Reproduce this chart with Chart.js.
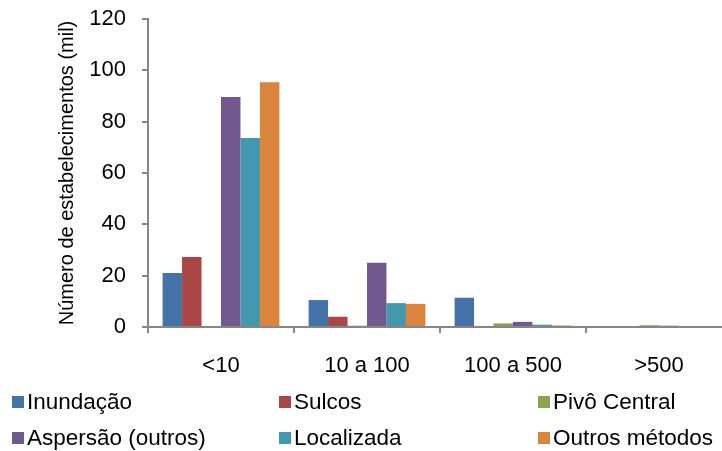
<!DOCTYPE html>
<html lang="pt">
<head>
<meta charset="UTF-8">
<title>Número de estabelecimentos por método de irrigação</title>
<script src="https://cdn.jsdelivr.net/npm/chart.js@4.4.1/dist/chart.umd.min.js"></script>
<style>
  body { margin: 0; background: #fff; }
  #wrap { width: 722px; height: 451px; overflow: hidden; position: relative; }
</style>
</head>
<body>
<div id="wrap">
  <canvas id="chart" width="740" height="451"></canvas>
</div>
<script>
// categorias (área do estabelecimento, ha) e valores em mil estabelecimentos
const categories = ['<10', '10 a 100', '100 a 500', '>500'];
const seriesNames = ['Inundação', 'Sulcos', 'Pivô Central', 'Aspersão (outros)', 'Localizada', 'Outros métodos'];
const inundacao = [21.0, 10.5, 11.4, 0.4];
const sulcos = [27.3, 4.0, 0, 0];
const pivoCentral = [0, 0.5, 1.4, 0.7];
const aspersao = [89.6, 25.0, 2.0, 0.5];
const localizada = [73.6, 9.3, 0.9, 0];
const outrosMetodos = [95.4, 9.0, 0.6, 0];
const yTicks = [0, 20, 40, 60, 80, 100, 120];

const colors = ['#4572A7', '#AA4643', '#89A54E', '#71588F', '#4198AF', '#DB843D'];
const values = [inundacao, sulcos, pivoCentral, aspersao, localizada, outrosMetodos];
const FONT = '"Liberation Sans", Arial, sans-serif';
const axisGray = '#868686';

// legenda em grade 3x2, desenhada no rodapé do canvas
const gridLegend = {
  id: 'gridLegend',
  afterDraw(chart) {
    const ctx = chart.ctx;
    const colX = [12, 279, 538];
    const rowY = [402, 438];
    ctx.save();
    ctx.font = '22.5px ' + FONT;
    ctx.textBaseline = 'middle';
    ctx.textAlign = 'left';
    chart.data.datasets.forEach((ds, i) => {
      const x = colX[i % 3], y = rowY[Math.floor(i / 3)];
      ctx.fillStyle = ds.backgroundColor;
      ctx.fillRect(x, y - 6, 12, 12);
      ctx.fillStyle = '#000';
      ctx.fillText(ds.label, x + 15, y + 1);
    });
    ctx.restore();
  }
};

new Chart(document.getElementById('chart'), {
  type: 'bar',
  data: {
    labels: categories,
    datasets: seriesNames.map((name, i) => ({
      label: name,
      data: values[i],
      backgroundColor: colors[i],
      borderWidth: 0
    }))
  },
  options: {
    responsive: false,
    animation: false,
    devicePixelRatio: 1,
    layout: { padding: { left: 0, top: 19, right: 8, bottom: 74 } },
    datasets: { bar: { categoryPercentage: 0.8, barPercentage: 1.0 } },
    plugins: { legend: { display: false }, tooltip: { enabled: false } },
    scales: {
      x: {
        afterFit: (s) => { s.height = 50; s.paddingLeft = 0; s.paddingRight = 0; },
        border: { color: axisGray, width: 2 },
        grid: { offset: true, drawOnChartArea: false, drawTicks: true, tickLength: 6, color: axisGray, lineWidth: 2 },
        ticks: { color: '#000', font: { family: FONT, size: 22 }, padding: 20, maxRotation: 0 }
      },
      y: {
        min: 0,
        max: 120,
        afterFit: (s) => { s.width = 148; s.paddingTop = 0; s.paddingBottom = 0; },
        afterBuildTicks: (s) => { s.ticks = yTicks.map(v => ({ value: v })); },
        border: { color: axisGray, width: 2 },
        grid: { drawOnChartArea: false, drawTicks: true, tickLength: 6, color: axisGray, lineWidth: 2 },
        ticks: { color: '#000', font: { family: FONT, size: 22 }, padding: 16 },
        title: {
          display: true,
          text: 'Número de estabelecimentos (mil)',
          color: '#000',
          font: { family: FONT, size: 20 },
          padding: { top: 55, bottom: 0 }
        }
      }
    }
  },
  plugins: [gridLegend]
});
</script>
</body>
</html>
